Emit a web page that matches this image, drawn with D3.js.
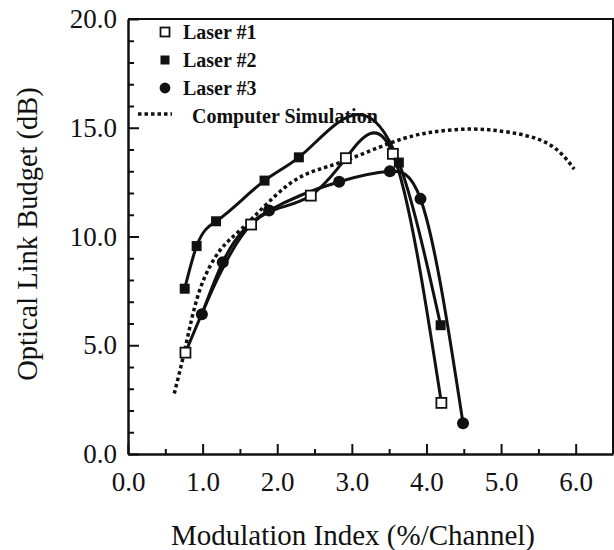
<!DOCTYPE html>
<html>
<head>
<meta charset="utf-8">
<script src="https://cdn.jsdelivr.net/npm/d3@7"></script>
<style>
  body { margin: 0; background: #fff; }
  text { font-family: "Liberation Serif", "DejaVu Serif", serif; fill: #111; }
</style>
</head>
<body>
<script>
// values
const laser1X = [0.77, 1.65, 2.45, 2.92, 3.55, 4.2];
const laser1Y = [4.66, 10.55, 11.88, 13.6, 13.8, 2.35];

const laser2X = [0.76, 0.92, 1.18, 1.83, 2.29, 3.63, 4.19];
const laser2Y = [7.6, 9.56, 10.7, 12.57, 13.64, 13.4, 5.92];

const laser3X = [0.99, 1.27, 1.89, 2.83, 3.51, 3.92, 4.49];
const laser3Y = [6.42, 8.82, 11.19, 12.52, 13.0, 11.73, 1.41];

const simX = [0.62, 0.77, 0.96, 1.23, 1.5, 1.86, 2.3, 2.84, 3.54, 4.06, 4.59, 5.11, 5.64, 5.98];
const simY = [2.78, 4.92, 7.52, 9.35, 10.28, 11.5, 12.72, 13.4, 14.33, 14.79, 14.94, 14.79, 14.25, 13.1];

const xTicks = [0, 1, 2, 3, 4, 5, 6];
const yTicks = [0, 5, 10, 15, 20];
const legendNames = ["Laser #1", "Laser #2", "Laser #3", "Computer Simulation"];

const width = 614;
const height = 550;

const svg = d3
  .select("body")
  .append("svg")
  .attr("width", width)
  .attr("height", height);

const x = d3.scaleLinear().domain([0, 6.5]).range([128, 613]);
const y = d3.scaleLinear().domain([0, 20]).range([454, 19]);

const fmt = d3.format(".1f");

// frame (top and right)
svg
  .append("path")
  .attr("d", `M ${x(0)} ${y(20)} H ${x(6.5)} V ${y(0)}`)
  .attr("fill", "none")
  .attr("stroke", "#111")
  .attr("stroke-width", 2);

// bottom axis
const ejeX = svg.append("g").attr("transform", `translate(0, ${y(0)})`);
ejeX.call(
  d3.axisBottom(x).tickValues(xTicks).tickSizeInner(-10).tickSizeOuter(0).tickPadding(18).tickFormat(fmt)
);
svg
  .append("g")
  .attr("transform", `translate(0, ${y(0)})`)
  .call(d3.axisBottom(x).tickValues(d3.range(0.5, 6.5, 1)).tickSizeInner(-5).tickSizeOuter(0).tickFormat(""))
  .select(".domain")
  .remove();

// left axis
const ejeY = svg.append("g").attr("transform", `translate(${x(0)}, 0)`);
ejeY.call(
  d3.axisLeft(y).tickValues(yTicks).tickSizeInner(-11).tickSizeOuter(0).tickPadding(11).tickFormat(fmt)
);
svg
  .append("g")
  .attr("transform", `translate(${x(0)}, 0)`)
  .call(
    d3.axisLeft(y).tickValues(d3.range(1, 20, 1).filter((v) => v % 5 !== 0)).tickSizeInner(-6).tickSizeOuter(0).tickFormat("")
  )
  .select(".domain")
  .remove();

svg.selectAll(".domain").attr("stroke", "#111").attr("stroke-width", 2.5);
svg.selectAll(".tick line").attr("stroke", "#111").attr("stroke-width", 2);
svg.selectAll(".tick text").attr("font-size", 27).attr("fill", "#111");

// axis titles
svg
  .append("text")
  .attr("x", 353)
  .attr("y", 545)
  .attr("text-anchor", "middle")
  .attr("font-size", 29)
  .text("Modulation Index (%/Channel)");

svg
  .append("text")
  .attr("transform", "translate(37, 234) rotate(-90)")
  .attr("text-anchor", "middle")
  .attr("font-size", 28.5)
  .text("Optical Link Budget (dB)");

// natural cubic spline y(x) (knots spaced by x, not by index), drawn as beziers
function curveSplineX(context) {
  let px, py;
  return {
    areaStart() {},
    areaEnd() {},
    lineStart() {
      px = [];
      py = [];
    },
    point(a, b) {
      px.push(+a);
      py.push(+b);
    },
    lineEnd() {
      const n = px.length;
      if (n < 3) {
        px.forEach((v, i) => (i ? context.lineTo(v, py[i]) : context.moveTo(v, py[i])));
        return;
      }
      const h = d3.range(n - 1).map((i) => px[i + 1] - px[i]);
      const s = d3.range(n - 1).map((i) => (py[i + 1] - py[i]) / h[i]);
      // tridiagonal system for second derivatives, M[0] = M[n-1] = 0
      const M = new Array(n).fill(0);
      const c = new Array(n).fill(0);
      const r = new Array(n).fill(0);
      for (let i = 1; i < n - 1; i++) {
        const den = 2 * (h[i - 1] + h[i]) - h[i - 1] * c[i - 1];
        c[i] = h[i] / den;
        r[i] = (6 * (s[i] - s[i - 1]) - h[i - 1] * r[i - 1]) / den;
      }
      for (let i = n - 2; i >= 1; i--) M[i] = r[i] - c[i] * M[i + 1];
      context.moveTo(px[0], py[0]);
      for (let i = 0; i < n - 1; i++) {
        const d0 = s[i] - (h[i] * (2 * M[i] + M[i + 1])) / 6;
        const d1 = s[i] + (h[i] * (M[i] + 2 * M[i + 1])) / 6;
        const k = h[i] / 3;
        context.bezierCurveTo(px[i] + k, py[i] + k * d0, px[i + 1] - k, py[i + 1] - k * d1, px[i + 1], py[i + 1]);
      }
    },
  };
}

const lineGen = (curve) =>
  d3
    .line()
    .x((d) => x(d[0]))
    .y((d) => y(d[1]))
    .curve(curve);

const series = [
  { xs: laser1X, ys: laser1Y, marker: "open" },
  { xs: laser2X, ys: laser2Y, marker: "filled" },
  { xs: laser3X, ys: laser3Y, marker: "circle" },
];

svg
  .append("path")
  .datum(d3.zip(simX, simY))
  .attr("d", lineGen(d3.curveNatural))
  .attr("fill", "none")
  .attr("stroke", "#111")
  .attr("stroke-width", 3.5)
  .attr("stroke-dasharray", "3.5 3");

series.forEach((s) => {
  svg
    .append("path")
    .datum(d3.zip(s.xs, s.ys))
    .attr("d", lineGen(curveSplineX))
    .attr("fill", "none")
    .attr("stroke", "#111")
    .attr("stroke-width", 3);
});

function drawMarker(g, type, cx, cy, size) {
  if (type === "circle") {
    g.append("circle").attr("cx", cx).attr("cy", cy).attr("r", size * 0.6).attr("fill", "#111");
  } else {
    g.append("rect")
      .attr("x", cx - size / 2)
      .attr("y", cy - size / 2)
      .attr("width", size)
      .attr("height", size)
      .attr("fill", type === "open" ? "#fff" : "#111")
      .attr("stroke", "#111")
      .attr("stroke-width", type === "open" ? 1.8 : 0);
  }
}

const marcas = svg.append("g");
series.forEach((s) => {
  d3.zip(s.xs, s.ys).forEach((d) => drawMarker(marcas, s.marker, x(d[0]), y(d[1]), 10));
});

// legend
const legend = svg.append("g");
const legendY = [32, 60, 88];
series.forEach((s, i) => {
  drawMarker(legend, s.marker, 165, legendY[i], 9);
  legend
    .append("text")
    .attr("x", 183)
    .attr("y", legendY[i])
    .attr("dy", "0.35em")
    .attr("font-size", 20)
    .attr("font-weight", "bold")
    .text(legendNames[i]);
});
legend
  .append("line")
  .attr("x1", 138)
  .attr("x2", 172)
  .attr("y1", 114)
  .attr("y2", 114)
  .attr("stroke", "#111")
  .attr("stroke-width", 3.5)
  .attr("stroke-dasharray", "3.5 3");
legend
  .append("text")
  .attr("x", 192)
  .attr("y", 116)
  .attr("dy", "0.35em")
  .attr("font-size", 20)
  .attr("font-weight", "bold")
  .text(legendNames[3]);
</script>
</body>
</html>
